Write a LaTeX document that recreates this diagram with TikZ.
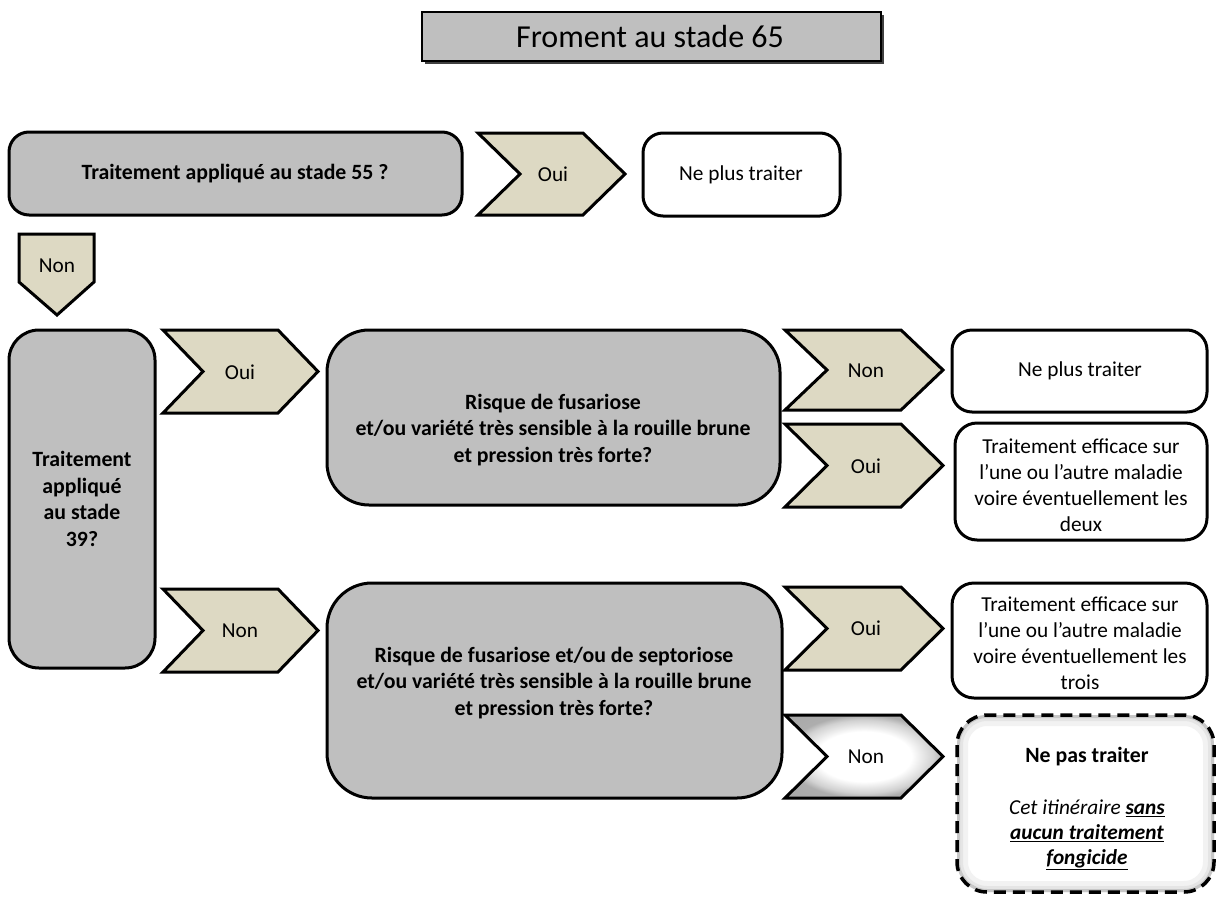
\documentclass[tikz,border=0pt]{standalone}
\usepackage{fontspec}
\setmainfont{Carlito}
\definecolor{boxgrey}{HTML}{BFBFBF}
\definecolor{chevtan}{HTML}{DDD9C3}
% white centre fading to grey towards the outline
\pgfdeclareradialshading{chevglow}{\pgfpoint{0bp}{0bp}}{%
  color(0bp)=(white); color(15bp)=(white); color(22bp)=(black!18);
  color(25bp)=(black!32); color(50bp)=(black!38)}
% chevron: left x, top y, right x (tip), bottom y, notch/tip depth
\newcommand\chevpath[5]{(#1,#2) -- (#3-#5,#2) -- (#3,{(#2+#4)/2}) -- (#3-#5,#4) -- (#1,#4) -- (#1+#5,{(#2+#4)/2}) -- cycle}
\begin{document}
\begin{tikzpicture}[x=1pt,y=-1pt,
  every node/.style={font=\fontsize{21.3}{26}\selectfont, align=center, inner sep=0pt},
  greybox/.style={draw=black, line width=3pt, fill=boxgrey},
  whitebox/.style={draw=black, line width=3pt, fill=white},
  chev/.style={draw=black, line width=3pt, fill=chevtan, line join=miter},
  bold/.style={font=\fontsize{21.8}{26.5}\selectfont\bfseries}]
\useasboundingbox (0,0) rectangle (1217,899);

% title
\fill[black!75] (425,15) rectangle (884,64);
\draw[fill=boxgrey, line width=2.5pt] (422,12) rectangle (881,61);
\node[font=\fontsize{32}{38}\selectfont] (title) at (650,37) {Froment au stade 65};

% first question
\draw[greybox, rounded corners=20pt] (9,132) rectangle (462,215);
\node[bold] (q55) at (235,174) {Traitement appliqué au stade 55 ?};
\draw[chev] \chevpath{478}{133}{625}{215}{42};
\node (oui1) at (553,174) {Oui};
\draw[whitebox, rounded corners=20pt] (643,133) rectangle (840,216);
\node (stop1) at (741,175) {Ne plus traiter};

% answer "Non" pointing down
\draw[chev] (19,234) -- (94,234) -- (94,282) -- (57,315) -- (19,282) -- cycle;
\node (non1) at (57,266) {Non};

% second question
\draw[greybox, rounded corners=30pt] (9,330) rectangle (155,668);
\node[bold] (q39) at (82,499) {Traitement\\appliqué\\au stade\\39?};

\draw[chev] \chevpath{163}{330}{318}{413}{40};
\node (oui2) at (240,372) {Oui};
\draw[chev] \chevpath{163}{589}{318}{672}{40};
\node (non2) at (240,631) {Non};

% branch "Oui"
\draw[greybox, rounded corners=42pt] (327,330) rectangle (780,505);
\node[bold] (qa) at (553,430) {Risque de fusariose\\et/ou variété très sensible à la rouille brune\\et pression très forte?};

\draw[chev] \chevpath{785}{330}{943}{410}{42};
\node (non3) at (866,371) {Non};
\draw[whitebox, rounded corners=20pt] (952,330) rectangle (1207,412);
\node (stop2) at (1080,371) {Ne plus traiter};

\draw[chev] \chevpath{785}{424}{943}{507}{42};
\node (oui3) at (866,466) {Oui};
\draw[whitebox, rounded corners=22pt] (955,423) rectangle (1207,540);
\node (deux) at (1081,485) {Traitement efficace sur\\l’une ou l’autre maladie\\voire éventuellement les\\deux};

% branch "Non"
\draw[greybox, rounded corners=45pt] (327,583) rectangle (782,798);
\node[bold] (qb) at (554,683) {Risque de fusariose et/ou de septoriose\\et/ou variété très sensible à la rouille brune\\et pression très forte?};

\draw[chev] \chevpath{785}{587}{943}{670}{42};
\node (oui4) at (866,628) {Oui};
\draw[whitebox, rounded corners=22pt] (952,583) rectangle (1207,698);
\node (trois) at (1080,643) {Traitement efficace sur\\l’une ou l’autre maladie\\voire éventuellement les\\trois};

\shade[shading=chevglow] \chevpath{785}{715}{943}{798}{42};
\draw[line width=3pt, line join=miter] \chevpath{785}{715}{943}{798}{42};
\node (non4) at (866,757) {Non};

% final outcome with soft inner edge and dashed outline
\fill[white, rounded corners=30pt] (957,715) rectangle (1214,892);
\begin{scope}
  \clip[rounded corners=30pt] (957,715) rectangle (1214,892);
  \draw[black!5, line width=22pt, rounded corners=30pt] (957,715) rectangle (1214,892);
  \draw[black!10, line width=12pt, rounded corners=30pt] (957,715) rectangle (1214,892);
  \draw[black!22, line width=6pt, rounded corners=30pt] (957,715) rectangle (1214,892);
\end{scope}
\draw[line width=3.5pt, dash pattern=on 12pt off 7pt, rounded corners=30pt] (957,715) rectangle (1214,892);
\node[bold] (nepas) at (1087,757) {Ne pas traiter};
\node[font=\fontsize{21.3}{25}\selectfont\itshape] (sans) at (1087,835)
  {Cet itinéraire \underline{\bfseries sans}\\\underline{\bfseries aucun traitement}\\\underline{\bfseries fongicide}};
\end{tikzpicture}
\end{document}
